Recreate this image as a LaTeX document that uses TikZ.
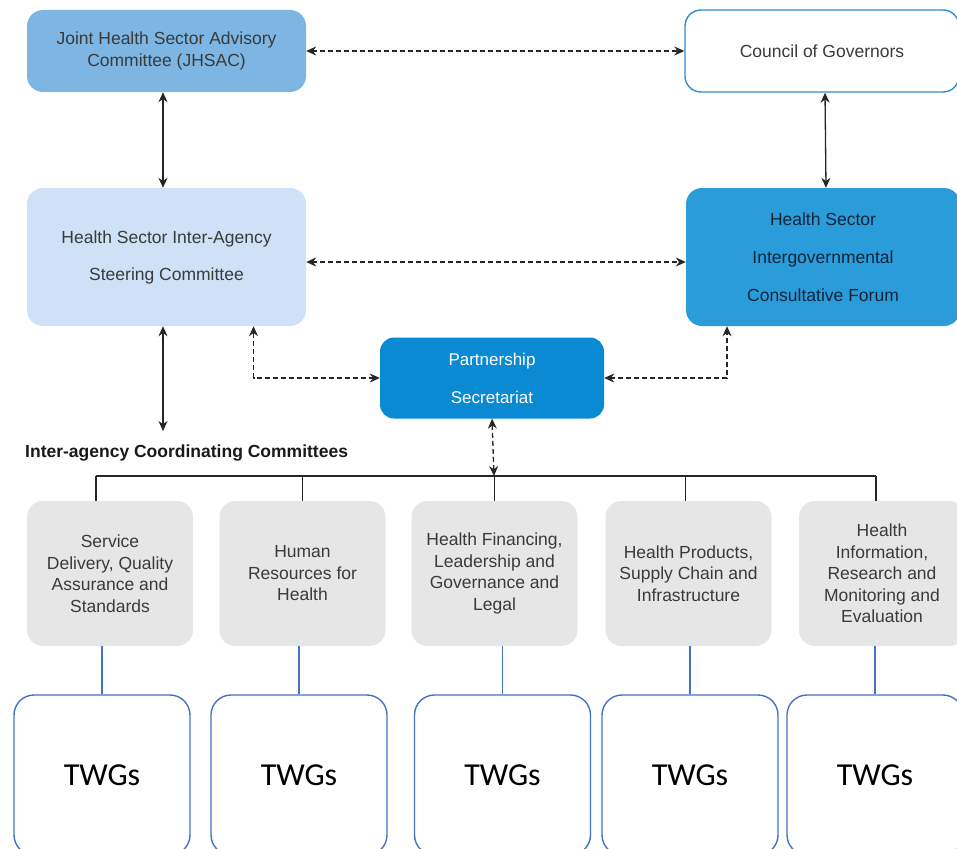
\documentclass[tikz,border=0pt]{standalone}
\usepackage{fontspec}
\setmainfont{Liberation Sans}
\newfontfamily\twgfont{Carlito}
\usepackage{tikz}
\usetikzlibrary{arrows.meta, positioning, calc}
\definecolor{jhsacblue}{HTML}{7DB6E3}
\definecolor{paleblue}{HTML}{CFE1F6}
\definecolor{forumblue}{HTML}{2A9CDA}
\definecolor{secrblue}{HTML}{0A8AD2}
\definecolor{cogline}{HTML}{2E8FD0}
\definecolor{twgline}{HTML}{4472C4}
\definecolor{boxgray}{HTML}{E6E6E6}
\definecolor{txtgray}{HTML}{3A3A3A}
\definecolor{navytext}{HTML}{12243A}

\tikzset{
  topbox/.style={rounded corners=16pt, align=center, font=\fontsize{17.5}{22}\selectfont,
    text=txtgray, inner sep=0pt},
  iccbox/.style={rounded corners=16pt, fill=boxgray, align=center, text=txtgray,
    minimum width=166pt, minimum height=145pt, inner sep=0pt,
    font=\fontsize{17.5}{21.5}\selectfont},
  twgbox/.style={rounded corners=20pt, draw=twgline, line width=1.4pt, fill=white,
    minimum width=176pt, minimum height=160pt, inner sep=0pt,
    font=\twgfont\fontsize{32}{34}\selectfont, text=black},
  link/.style={black!85, line width=1.3pt, {Stealth[length=10pt,width=9pt]}-{Stealth[length=10pt,width=9pt]}},
  dlink/.style={link, dash pattern=on 5pt off 3pt},
}

\begin{document}
\begin{tikzpicture}[x=1pt, y=-1pt]
  \useasboundingbox (0,0) rectangle (957,848);

  % Top level committees
  \node[topbox, fill=jhsacblue, minimum width=279pt, minimum height=82pt]
    (jhsac) at (166.5,51) {Joint Health Sector Advisory\\Committee (JHSAC)};
  \node[topbox, fill=white, draw=cogline, line width=1.4pt,
    minimum width=274pt, minimum height=82pt]
    (cog) at (822,51) {Council of Governors};

  % Second level
  \node[topbox, fill=paleblue, minimum width=279pt, minimum height=138pt,
    font=\fontsize{17.5}{37}\selectfont]
    (hsiasc) at (166.5,257) {Health Sector Inter-Agency\\Steering Committee};
  \node[topbox, fill=forumblue, text=navytext, minimum width=274pt, minimum height=138pt,
    font=\fontsize{17.5}{38}\selectfont]
    (forum) at (823,257) {Health Sector\\Intergovernmental\\Consultative Forum};

  % Secretariat
  \node[topbox, fill=secrblue, text=white, rounded corners=14pt,
    minimum width=224pt, minimum height=81pt, font=\fontsize{17}{38}\selectfont]
    (secr) at (492,378) {Partnership\\Secretariat};

  \draw[dlink] (jhsac.east) -- (cog.west);
  \draw[link] ([xshift=-3.5pt]jhsac.south) -- ([xshift=-3.5pt]hsiasc.north);
  \draw[link] ([xshift=3pt]cog.south) -- ([xshift=3pt]forum.north);
  \draw[dlink] ([yshift=-5pt]hsiasc.east) -- ([yshift=-5pt]forum.west);
  \draw[dlink] (secr.west) -| ([xshift=87pt]hsiasc.south);
  \draw[dlink] (secr.east) -| ([xshift=-96pt]forum.south);

  % Coordinating committees
  \coordinate (iacc) at (163,431);
  \draw[link] ([xshift=-3.5pt]hsiasc.south) -- (iacc);
  \node[anchor=west, font=\bfseries\fontsize{17.5}{18}\selectfont, text=black!90, inner sep=0pt]
    (icclabel) at (25,453) {Inter-agency Coordinating Committees};

  \coordinate (bar) at (494,476);
  \draw[dlink] (secr.south) -- (bar);

  \node[iccbox] (icc1) at (110,573.5) {Service\\Delivery, Quality\\Assurance and\\Standards};
  \node[iccbox] (icc2) at (302.5,573.5) {Human\\Resources for\\Health};
  \node[iccbox] (icc3) at (494.5,573.5) {Health Financing,\\Leadership and\\Governance and\\Legal};
  \node[iccbox] (icc4) at (688.5,573.5) {Health Products,\\Supply Chain and\\Infrastructure};
  \node[iccbox] (icc5) at (882,573.5) {Health\\Information,\\Research and\\Monitoring and\\Evaluation};

  % Bar and drops
  \draw[black!85, line width=1.6pt] ([xshift=-14pt]icc1.north |- bar) -- ([xshift=-6pt]icc5.north |- bar);
  \foreach \i/\dx in {1/-14, 2/0, 3/0, 4/-3, 5/-6}{
    \draw[black!85, line width=1.6pt] ([xshift=\dx pt]icc\i.north |- bar) -- ([xshift=\dx pt]icc\i.north);
  }

  % Technical working groups
  \foreach \i/\x in {1/102, 2/299, 3/502.5, 4/690, 5/875}{
    \node[twgbox] (twg\i) at (\x,775) {TWGs};
    \draw[twgline, line width=1.4pt] (icc\i.south -| twg\i.north) -- (twg\i.north);
  }
\end{tikzpicture}
\end{document}
